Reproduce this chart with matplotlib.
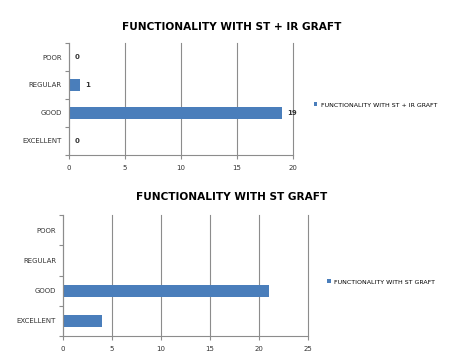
import matplotlib.pyplot as plt
from matplotlib.ticker import FixedLocator

plt.rcParams['font.family'] = ['DejaVu Sans']

categories = ["EXCELLENT", "GOOD", "REGULAR", "POOR"]
st_ir = [0, 19, 1, 0]
st = [4, 21, 0, 0]

title1 = "FUNCTIONALITY WITH ST + IR GRAFT"
title2 = "FUNCTIONALITY WITH ST GRAFT"
blue = "#4a7ebb"
grey = "#8c8c8c"

fig = plt.figure(figsize=(4.53, 3.56), dpi=100)


def style(ax, xmax):
    ax.set_xlim(0, xmax)
    ax.set_ylim(-0.5, len(categories) - 0.5)
    ax.set_xticks(range(0, xmax + 1, 5))
    ax.set_yticks(range(len(categories)))
    ax.set_yticklabels(categories)
    ax.yaxis.set_minor_locator(FixedLocator([i - 0.5 for i in range(len(categories) + 1)]))
    ax.tick_params(axis='y', which='major', length=0, labelsize=5, pad=5, labelcolor='#333333')
    ax.tick_params(axis='y', which='minor', length=3, color=grey, width=0.8)
    ax.tick_params(axis='x', length=3, color=grey, width=0.8, labelsize=5, pad=4, labelcolor='#333333')
    ax.grid(axis='x', color=grey, linewidth=0.8)
    for gl in ax.get_xgridlines():
        gl.set_clip_on(False)
    ax.set_axisbelow(True)
    for s in ['top', 'right']:
        ax.spines[s].set_visible(False)
    for s in ['left', 'bottom']:
        ax.spines[s].set_color(grey)
        ax.spines[s].set_linewidth(0.8)


# top chart
ax1 = fig.add_axes([0.152, 0.565, 0.495, 0.314])
ax1.barh(range(len(categories)), st_ir, height=0.4, color=blue, label=title1)
style(ax1, 20)
for i, v in enumerate(st_ir):
    ax1.text(v + 0.5, i, str(v), va='center', ha='left', fontsize=5, fontweight='bold', color='#333333')
fig.text(0.512, 0.924, title1, ha='center', va='center', fontsize=7.6, fontweight='bold')
ax1.legend(loc='center left', bbox_to_anchor=(0.68, 0.705), bbox_transform=fig.transFigure,
           frameon=False, fontsize=4.5, handlelength=0.6, handleheight=0.6, handletextpad=0.5)

# bottom chart
ax2 = fig.add_axes([0.139, 0.056, 0.541, 0.34])
ax2.barh(range(len(categories)), st, height=0.4, color=blue, label=title2)
style(ax2, 25)
fig.text(0.512, 0.447, title2, ha='center', va='center', fontsize=7.6, fontweight='bold')
ax2.legend(loc='center left', bbox_to_anchor=(0.71, 0.208), bbox_transform=fig.transFigure,
           frameon=False, fontsize=4.5, handlelength=0.6, handleheight=0.6, handletextpad=0.5)

fig.savefig("out.png", dpi=100)
